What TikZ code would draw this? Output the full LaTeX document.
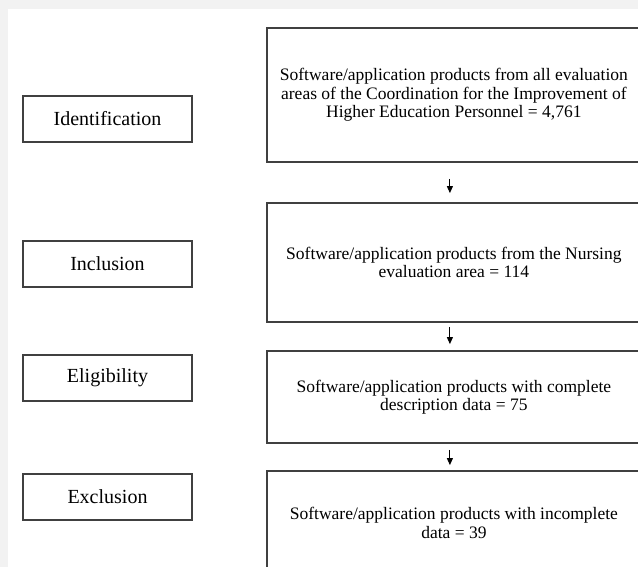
\documentclass[tikz,border=0pt]{standalone}
\usepackage{fontspec}
\setmainfont{Liberation Serif}
\usepackage{tikz}
\usetikzlibrary{arrows.meta}
\usetikzlibrary{positioning}

\begin{document}
\begin{tikzpicture}[
	x=1pt, y=-1pt,
	font=\fontsize{17.5}{18.5}\selectfont
]
\tikzset{
    stagebox/.style = {rectangle, draw=black!75, line width=1.8pt, align=center, minimum width=169pt, minimum height=46pt, font=\fontsize{20}{22}\selectfont},
    countbox/.style = {rectangle, draw=black!75, line width=1.8pt, align=center, anchor=west, minimum width=374pt},
    flowarrow/.style = {-{Triangle[length=7pt,width=6pt]}, line width=0.9pt}
}
\useasboundingbox (0,0) rectangle (638,567);
\fill[black!5] (0,0) rectangle (638,567);
\fill[white] (8,9) rectangle (638,567);

\node[stagebox] (ident) at (107.5,119) {Identification};
\node[stagebox] (incl) at (107.5,264) {Inclusion};
\node[stagebox] (elig) at (107.5,378) {Eligibility};
\node[stagebox] (excl) at (107.5,497) {Exclusion};

\node[countbox,minimum height=134pt] (all) at (266,95) {Software/application products from all evaluation\\areas of the Coordination for the Improvement of\\Higher Education Personnel = 4,761};
\node[countbox,minimum height=119pt] (nursing) at (266,262.5) {Software/application products from the Nursing\\evaluation area = 114};
\node[countbox,minimum height=92pt] (complete) at (266,397) {Software/application products with complete\\description data = 75};
\node[countbox,minimum height=104pt] (incomplete) at (266,523) {Software/application products with incomplete\\data = 39};

\draw[flowarrow,shorten <=16pt,shorten >=9pt] ([xshift=-4pt]all.south) -- ([xshift=-4pt]nursing.north);
\draw[flowarrow,shorten <=4pt,shorten >=6pt] ([xshift=-4pt]nursing.south) -- ([xshift=-4pt]complete.north);
\draw[flowarrow,shorten <=6pt,shorten >=5pt] ([xshift=-4pt]complete.south) -- ([xshift=-4pt]incomplete.north);
\end{tikzpicture}
\end{document}
